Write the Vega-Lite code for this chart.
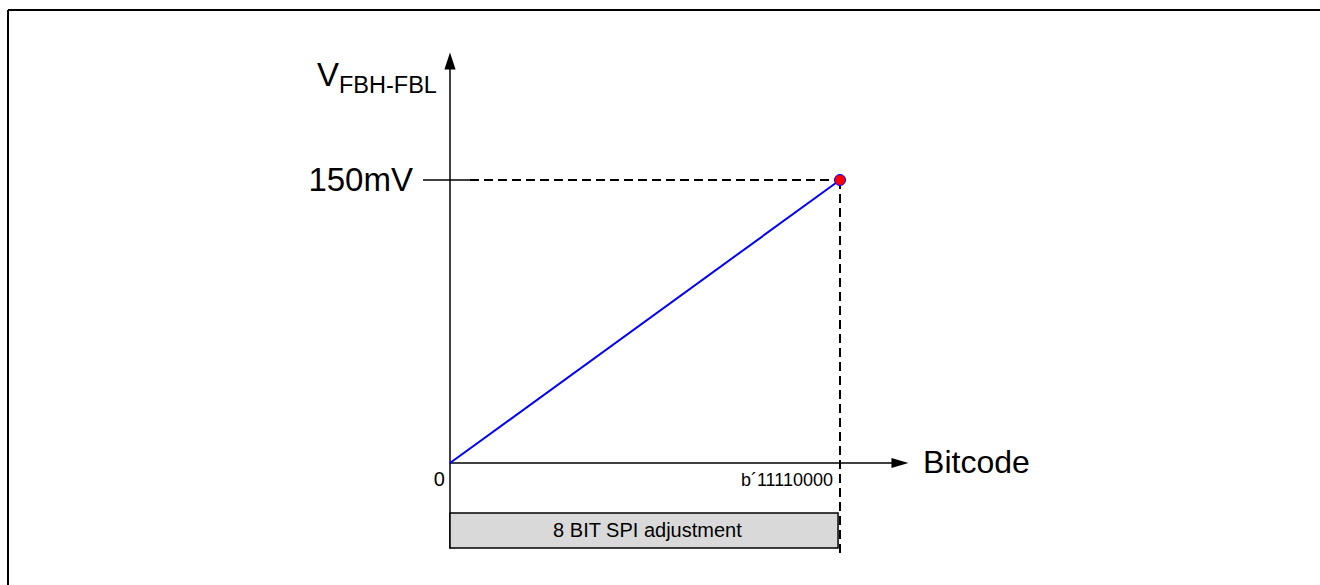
{
  "$schema": "https://vega.github.io/schema/vega-lite/v6.json",
  "width": 1320,
  "height": 585,
  "autosize": "none",
  "padding": 0,
  "background": "white",
  "config": {"view": {"stroke": null}, "text": {"font": "Liberation Sans"}},
  "encoding": {
    "x": {"field": "x", "type": "quantitative", "scale": {"domain": [-276.923, 535.385], "nice": false, "zero": false}, "axis": null},
    "y": {"field": "y", "type": "quantitative", "scale": {"domain": [-64.66, 245.4], "nice": false, "zero": false}, "axis": null}
  },
  "layer": [
    {
      "data": {"values": [
        {"x": -272.0, "y": 240.1, "x2": 560, "y2": 240.1},
        {"x": -272.0, "y": 240.1, "x2": -272.0, "y2": -70}
      ]},
      "mark": {"type": "rule", "color": "black", "strokeWidth": 2},
      "encoding": {"x2": {"field": "x2"}, "y2": {"field": "y2"}}
    },
    {
      "data": {"values": [
        {"x": 0, "y": -45.3, "x2": 0, "y2": 210},
        {"x": 0, "y": 0, "x2": 274, "y2": 0},
        {"x": -16.6, "y": 150, "x2": 12.3, "y2": 150}
      ]},
      "mark": {"type": "rule", "color": "black", "strokeWidth": 1.5},
      "encoding": {"x2": {"field": "x2"}, "y2": {"field": "y2"}}
    },
    {
      "data": {"values": [
        {"x": 12.3, "y": 150, "x2": 240, "y2": 150},
        {"x": 240, "y": 150, "x2": 240, "y2": -48.8}
      ]},
      "mark": {"type": "rule", "color": "black", "strokeWidth": 2, "strokeDash": [9, 5]},
      "encoding": {"x2": {"field": "x2"}, "y2": {"field": "y2"}}
    },
    {
      "data": {"values": [
        {"x": 0, "y": -26.5, "x2": 238.8, "y2": -45.05}
      ]},
      "mark": {"type": "rect", "fill": "#d9d9d9", "stroke": "black", "strokeWidth": 1.5},
      "encoding": {"x2": {"field": "x2"}, "y2": {"field": "y2"}}
    },
    {
      "data": {"values": [
        {"x": 0, "y": 0},
        {"x": 240, "y": 150}
      ]},
      "mark": {"type": "line", "color": "#0000ff", "strokeWidth": 2}
    },
    {
      "data": {"values": [{"x": 240, "y": 150}]},
      "mark": {"type": "point", "shape": "circle", "filled": true, "fill": "#ff0000", "stroke": "#0000ff", "strokeWidth": 1, "size": 121, "opacity": 1}
    },
    {
      "data": {"values": [{"x": 0, "y": 213.1}]},
      "mark": {"type": "point", "shape": "M0,-1L0.66,1L-0.66,1Z", "filled": true, "fill": "black", "strokeWidth": 0, "size": 289, "opacity": 1}
    },
    {
      "data": {"values": [{"x": 276.9, "y": 0}]},
      "mark": {"type": "point", "shape": "M1,0L-1,-0.6L-1,0.6Z", "filled": true, "fill": "black", "strokeWidth": 0, "size": 289, "opacity": 1}
    },
    {
      "data": {"values": [
        {"x": -22.8, "y": 144.2, "label": "150mV"}
      ]},
      "mark": {"type": "text", "fontSize": 33, "align": "right", "baseline": "alphabetic", "color": "black"},
      "encoding": {"text": {"field": "label"}}
    },
    {
      "data": {"values": [
        {"x": -68.3, "y": 199.8, "label": "V"}
      ]},
      "mark": {"type": "text", "fontSize": 33, "align": "right", "baseline": "alphabetic", "color": "black"},
      "encoding": {"text": {"field": "label"}}
    },
    {
      "data": {"values": [
        {"x": -68.3, "y": 196.1, "label": "FBH-FBL"}
      ]},
      "mark": {"type": "text", "fontSize": 23.5, "align": "left", "baseline": "alphabetic", "color": "black"},
      "encoding": {"text": {"field": "label"}}
    },
    {
      "data": {"values": [
        {"x": 291.1, "y": -5.3, "label": "Bitcode"}
      ]},
      "mark": {"type": "text", "fontSize": 32, "align": "left", "baseline": "alphabetic", "color": "black"},
      "encoding": {"text": {"field": "label"}}
    },
    {
      "data": {"values": [
        {"x": -3.1, "y": -12.2, "label": "0"}
      ]},
      "mark": {"type": "text", "fontSize": 20, "align": "right", "baseline": "alphabetic", "color": "black"},
      "encoding": {"text": {"field": "label"}}
    },
    {
      "data": {"values": [
        {"x": 235.7, "y": -12.2, "label": "b´11110000"}
      ]},
      "mark": {"type": "text", "fontSize": 18, "align": "right", "baseline": "alphabetic", "color": "black"},
      "encoding": {"text": {"field": "label"}}
    },
    {
      "data": {"values": [
        {"x": 121.5, "y": -39.2, "label": "8 BIT SPI adjustment"}
      ]},
      "mark": {"type": "text", "fontSize": 20, "align": "center", "baseline": "alphabetic", "color": "black"},
      "encoding": {"text": {"field": "label"}}
    }
  ]
}
